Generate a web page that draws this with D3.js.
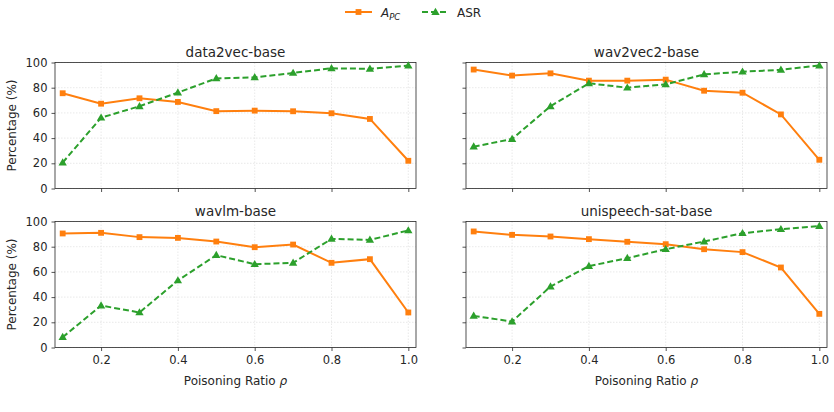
<!DOCTYPE html>
<html>
<head>
<meta charset="utf-8">
<script src="https://cdn.jsdelivr.net/npm/d3@7"></script>
<style>
  body { margin: 0; background: #fff; }
  text { font-family: "DejaVu Sans", sans-serif; fill: #262626; }
</style>
</head>
<body>
<div id="chart"></div>
<script>
// data
const ratios = [0.1, 0.2, 0.3, 0.4, 0.5, 0.6, 0.7, 0.8, 0.9, 1.0];
const models = ["data2vec-base", "wav2vec2-base", "wavlm-base", "unispeech-sat-base"];
const apcData2vec = [75.6, 67.3, 71.6, 68.7, 61.4, 61.8, 61.3, 59.7, 55.2, 22.0];
const asrData2vec = [20.6, 56.2, 65.3, 76.1, 87.4, 88.2, 91.7, 95.4, 95.0, 97.6];
const apcWav2vec2 = [94.4, 89.6, 91.4, 85.6, 85.6, 86.4, 77.6, 76.0, 58.8, 22.8];
const asrWav2vec2 = [33.2, 39.3, 65.3, 83.5, 80.0, 82.7, 90.6, 92.7, 94.2, 97.6];
const apcWavlm = [90.5, 91.0, 87.6, 87.0, 84.1, 79.6, 81.7, 67.2, 70.1, 27.8];
const asrWavlm = [8.2, 33.3, 27.8, 53.2, 73.3, 66.1, 67.2, 86.2, 85.4, 92.9];
const apcUnispeech = [92.1, 89.4, 88.1, 86.0, 83.9, 82.0, 78.0, 75.7, 63.5, 26.7];
const asrUnispeech = [25.1, 20.6, 48.4, 64.6, 70.9, 78.0, 84.1, 90.7, 93.9, 96.3];
const yTicks = [0, 20, 40, 60, 80, 100];
const xTicks = [0.2, 0.4, 0.6, 0.8, 1.0];

const panels = [
    { title: models[0], apc: apcData2vec, asr: asrData2vec, row: 0, col: 0 },
    { title: models[1], apc: apcWav2vec2, asr: asrWav2vec2, row: 0, col: 1 },
    { title: models[2], apc: apcWavlm, asr: asrWavlm, row: 1, col: 0 },
    { title: models[3], apc: apcUnispeech, asr: asrUnispeech, row: 1, col: 1 }
];

const W = 834, H = 412;
const orange = "#ff7f0e", green = "#2ca02c";
const colX = [55, 466], colW = 361;
const rowY = [62.5, 221.5], rowH = 126;

const svg = d3.select("#chart").append("svg")
    .attr("width", W).attr("height", H);

const x = d3.scaleLinear().domain([0.08, 1.02]).range([0, colW]);
const y = d3.scaleLinear().domain([0, 100]).range([rowH, 0]);

const line = d3.line().x((d, i) => x(ratios[i])).y(d => y(d));
const square = d3.symbol().type(d3.symbolSquare).size(34);
const tri = d3.symbol().type(d3.symbolTriangle).size(30);

panels.forEach(p => {
    const g = svg.append("g")
        .attr("transform", `translate(${colX[p.col]},${rowY[p.row]})`);

    // grid
    g.append("g").selectAll("line").data(xTicks).enter().append("line")
        .attr("x1", d => x(d)).attr("x2", d => x(d))
        .attr("y1", 0).attr("y2", rowH)
        .attr("stroke", "#e3e3e3").attr("stroke-width", 0.8)
        .attr("stroke-dasharray", "1.5,1.5");
    g.append("g").selectAll("line").data(yTicks).enter().append("line")
        .attr("x1", 0).attr("x2", colW)
        .attr("y1", d => y(d)).attr("y2", d => y(d))
        .attr("stroke", "#e3e3e3").attr("stroke-width", 0.8)
        .attr("stroke-dasharray", "1.5,1.5");

    // axes
    const xAxis = d3.axisBottom(x).tickValues(xTicks).tickSize(3.5).tickPadding(5)
        .tickFormat(p.row === 1 ? d3.format(".1f") : "");
    const yAxis = d3.axisLeft(y).tickValues(yTicks).tickSize(3.5).tickPadding(4)
        .tickFormat(p.col === 0 ? d3.format("d") : "");
    const gx = g.append("g").attr("transform", `translate(0,${rowH})`).call(xAxis);
    const gy = g.append("g").call(yAxis);
    [gx, gy].forEach(a => {
        a.select(".domain").remove();
        a.selectAll("line").attr("stroke", "#262626").attr("stroke-width", 0.8);
        a.selectAll("text").attr("font-size", 11.5).style("fill", "#262626")
            .attr("font-family", "DejaVu Sans");
    });
    g.append("rect").attr("width", colW).attr("height", rowH)
        .attr("fill", "none").attr("stroke", "#262626").attr("stroke-width", 0.8);

    // series
    g.append("path").datum(p.apc).attr("d", line)
        .attr("fill", "none").attr("stroke", orange).attr("stroke-width", 2);
    g.append("path").datum(p.asr).attr("d", line)
        .attr("fill", "none").attr("stroke", green).attr("stroke-width", 2)
        .attr("stroke-dasharray", "6,3");
    g.selectAll(".mk-apc").data(p.apc).enter().append("path")
        .attr("d", square).attr("fill", orange)
        .attr("transform", (d, i) => `translate(${x(ratios[i])},${y(d)})`);
    g.selectAll(".mk-asr").data(p.asr).enter().append("path")
        .attr("d", tri).attr("fill", green)
        .attr("transform", (d, i) => `translate(${x(ratios[i])},${y(d) + 0.5})`);

    // titles / labels
    g.append("text").attr("x", colW / 2).attr("y", -6)
        .attr("text-anchor", "middle").attr("font-size", 13.5).text(p.title);
    if (p.col === 0) {
        g.append("text")
            .attr("transform", `translate(-39,${rowH / 2}) rotate(-90)`)
            .attr("text-anchor", "middle").attr("font-size", 12).text("Percentage (%)");
    }
    if (p.row === 1) {
        const t = g.append("text").attr("x", colW / 2).attr("y", rowH + 37)
            .attr("text-anchor", "middle").attr("font-size", 12);
        t.append("tspan").text("Poisoning Ratio ");
        t.append("tspan").attr("font-style", "italic").text("ρ");
    }
});

// legend
const lg = svg.append("g").attr("transform", "translate(0,12)");
lg.append("line").attr("x1", 345).attr("x2", 372).attr("stroke", orange).attr("stroke-width", 2);
lg.append("path").attr("d", square).attr("fill", orange).attr("transform", "translate(358.5,0)");
const lt = lg.append("text").attr("x", 381).attr("y", 4.5).attr("font-size", 12);
lt.append("tspan").attr("font-style", "italic").text("A");
lt.append("tspan").attr("font-style", "italic").attr("font-size", 8.5).attr("dy", 3).text("PC");
lg.append("line").attr("x1", 422).attr("x2", 449).attr("stroke", green).attr("stroke-width", 2)
    .attr("stroke-dasharray", "6,3");
lg.append("path").attr("d", tri).attr("fill", green).attr("transform", "translate(435.5,0.5)");
lg.append("text").attr("x", 457).attr("y", 4.5).attr("font-size", 12).text("ASR");
</script>
</body>
</html>
